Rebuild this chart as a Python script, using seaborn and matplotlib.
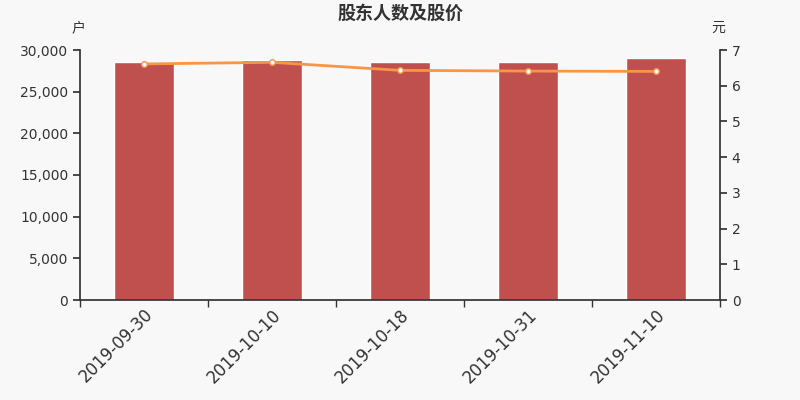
import numpy as np
import pandas as pd
import matplotlib
matplotlib.use('Agg')
import matplotlib.pyplot as plt
import seaborn as sns

dates = ['2019-09-30', '2019-10-10', '2019-10-18', '2019-10-31', '2019-11-10']
holders = [28600, 28800, 28600, 28560, 29000]
price = [6.61, 6.655, 6.43, 6.41, 6.40]

sns.set_theme(style='ticks')
plt.rcParams['font.family'] = ['DejaVu Sans', 'Noto Sans CJK SC']
plt.rcParams['axes.unicode_minus'] = False

df = pd.DataFrame({'date': dates, 'holders': holders, 'price': price})

fig = plt.figure(figsize=(8, 4), dpi=100, facecolor='#f8f8f8')
ax = fig.add_axes([0.1, 0.25, 0.8, 0.625])
ax.set_facecolor('#f8f8f8')

sns.barplot(data=df, x='date', y='holders', color='#c0504d', saturation=1,
            width=0.47, ax=ax)
ax.set_xlim(-0.5, len(dates) - 0.5)
ax.set_ylim(0, 30000)
ax.set_yticks(np.arange(0, 30001, 5000))
ax.set_yticklabels([f'{v:,}' for v in range(0, 30001, 5000)], fontsize=10, color='#333333')
ax.set_xlabel('')
ax.set_ylabel('')
ax.set_xticks(range(len(dates)))
ax.set_xticklabels(dates, rotation=45, ha='right', rotation_mode='anchor',
                   fontsize=12, color='#333333')
ax.tick_params(axis='x', which='major', length=0, pad=4)
ax.set_xticks(np.arange(-0.5, len(dates), 1), minor=True)
ax.tick_params(axis='x', which='minor', length=5, color='#333333')
ax.tick_params(axis='y', length=5, color='#333333')
for s in ['top', 'right']:
    ax.spines[s].set_visible(False)
for s in ['left', 'bottom']:
    ax.spines[s].set_color('#333333')

ax2 = ax.twinx()
sns.lineplot(data=df, x='date', y='price', color='#f79646', linewidth=2,
             marker='o', markersize=4, markerfacecolor='white',
             markeredgecolor='#f79646', markeredgewidth=1, ax=ax2)
ax2.set_ylim(0, 7)
ax2.set_yticks(range(0, 8))
ax2.set_yticklabels([str(v) for v in range(0, 8)], fontsize=10, color='#333333')
ax2.set_ylabel('')
ax2.set_xlabel('')
ax2.tick_params(axis='y', length=5, color='#333333')
ax2.spines['top'].set_visible(False)
ax2.spines['left'].set_visible(False)
ax2.spines['bottom'].set_visible(False)
ax2.spines['right'].set_color('#333333')
ax2.set_xlim(-0.5, len(dates) - 0.5)

cjk = ['Noto Sans CJK SC', 'DejaVu Sans']
fig.text(0.5, 0.967, '股东人数及股价', ha='center', va='center', fontsize=13,
         fontweight='bold', color='#333333', family=cjk)
fig.text(0.098, 0.93, '户', ha='center', va='center', fontsize=10, color='#333333', family=cjk)
fig.text(0.898, 0.93, '元', ha='center', va='center', fontsize=10, color='#333333', family=cjk)

fig.savefig('out.png', dpi=100, facecolor='#f8f8f8')
